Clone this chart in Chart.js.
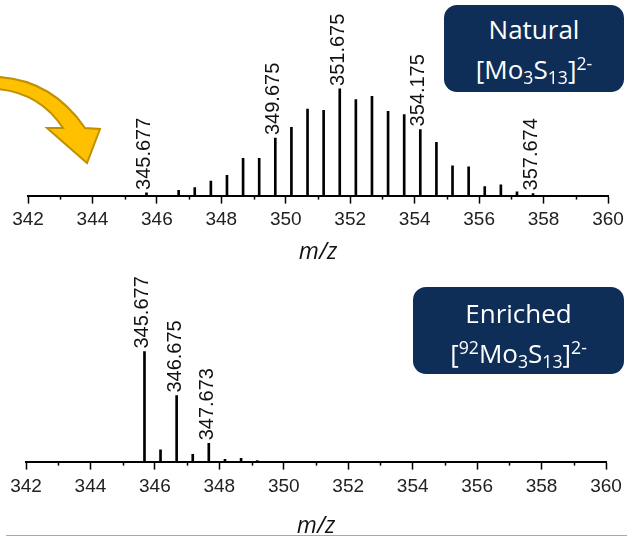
<!DOCTYPE html>
<html>
<head>
<meta charset="utf-8">
<script src="https://cdn.jsdelivr.net/npm/chart.js@4"></script>
<style>
    body { margin: 0; background: #fff; }
    #wrap { position: relative; width: 635px; height: 540px; overflow: hidden; }
    .pane { position: absolute; left: 0; width: 635px; height: 270px; }
    .tag {
        position: absolute;
        background: #0e2e57;
        border-radius: 13px;
        color: #fff;
        font-family: "Open Sans", sans-serif;
        font-size: 26px;
        line-height: 40px;
        text-align: center;
        box-sizing: border-box;
    }
    .sub { font-size: 0.68em; position: relative; top: 0.28em; line-height: 0; }
    .sup { font-size: 0.68em; position: relative; top: -0.5em; line-height: 0; }
    #rule { position: absolute; left: 6px; width: 621px; top: 535px; height: 0; border-top: 1.5px solid #aaa; }
</style>
</head>
<body>
<div id="wrap">
    <div class="pane" style="top:0"><canvas id="naturalChart" width="635" height="270"></canvas></div>
    <div class="pane" style="top:270px"><canvas id="enrichedChart" width="635" height="270"></canvas></div>

    <svg style="position:absolute;left:0;top:0" width="130" height="180">
        <path d="M -2,77 Q 52,80 85,128 L 100,129 L 87,163 L 47,128 L 63,128 Q 40,93 -2,89 Z"
              fill="#ffc000" stroke="#bf9000" stroke-width="2" stroke-linejoin="miter"/>
    </svg>

    <div class="tag" style="left:444px;top:5px;width:180px;height:87px;padding-top:4px">
        Natural<br>[Mo<span class="sub">3</span>S<span class="sub">13</span>]<span class="sup">2-</span>
    </div>
    <div class="tag" style="left:413px;top:287px;width:211px;height:87px;padding-top:6px">
        Enriched<br>[<span class="sup">92</span>Mo<span class="sub">3</span>S<span class="sub">13</span>]<span class="sup">2-</span>
    </div>
    <div id="rule"></div>
</div>

<script>
// Natural isotope pattern (relative intensity, tallest = 100)
const natMz = [345.677, 346.675, 347.175, 347.675, 348.175, 348.675, 349.175, 349.675, 350.175, 350.675, 351.175, 351.675,
    352.175, 352.675, 353.175, 353.675, 354.175, 354.675, 355.175, 355.675, 356.175, 356.675, 357.175, 357.674];
const natInt = [2.5, 5, 7.5, 13.5, 19, 35, 35, 54, 64, 81, 80, 100,
    90, 93, 79, 76, 62, 50, 28, 27, 8.5, 10, 3.5, 2];
const natLabels = ['345.677', '349.675', '351.675', '354.175', '357.674'];

// 92Mo enriched pattern
const enrMz = [345.677, 346.175, 346.675, 347.175, 347.673, 348.175, 348.675, 349.175];
const enrInt = [100, 10.6, 60, 6.6, 16.6, 2, 3, 1];
const enrLabels = ['345.677', '346.675', '347.673'];

// x axis
const mzMin = 342;
const mzMax = 360;
const mzStep = 2;

// Draws rotated m/z labels above the labelled peaks + short minor ticks
const peakLabelPlugin = {
    id: 'peakLabels',
    afterDraw(chart, args, opts) {
        let ctx = chart.ctx;
        let xs = chart.scales.x;
        let ys = chart.scales.y;
        let area = chart.chartArea;

        // minor ticks
        ctx.save();
        ctx.strokeStyle = '#000';
        ctx.lineWidth = 1.5;
        for (let v = mzMin + 1; v < mzMax; v += mzStep) {
            let px = Math.round(xs.getPixelForValue(v)) + 0.5;
            ctx.beginPath();
            ctx.moveTo(px, area.bottom);
            ctx.lineTo(px, area.bottom + 4);
            ctx.stroke();
        }
        ctx.restore();

        // peak labels
        ctx.save();
        ctx.font = '20px "Liberation Sans", Arial, sans-serif';
        ctx.fillStyle = '#111';
        ctx.textAlign = 'left';
        ctx.textBaseline = 'middle';
        opts.labels.forEach(lbl => {
            let i = opts.mz.findIndex(m => Math.abs(m - parseFloat(lbl)) < 0.01);
            if (i < 0) return;
            let px = xs.getPixelForValue(opts.mz[i]) - 1.5;
            let py = ys.getPixelForValue(opts.int[i]) - 3;
            ctx.save();
            ctx.translate(px, py);
            ctx.rotate(-Math.PI / 2);
            ctx.fillText(lbl, 0, 0);
            ctx.restore();
        });
        ctx.restore();
    }
};

function makeSpectrum(canvasId, mz, intensity, labels, yMax, pad, tickPad, titlePadTop) {
    let ctx = document.getElementById(canvasId).getContext('2d');
    return new Chart(ctx, {
        type: 'bar',
        data: {
            datasets: [{
                data: mz.map((m, i) => ({ x: m, y: intensity[i] })),
                backgroundColor: '#000',
                borderWidth: 0,
                barThickness: 2
            }]
        },
        options: {
            responsive: false,
            animation: false,
            layout: { padding: pad },
            plugins: {
                legend: { display: false },
                tooltip: { enabled: false },
                peakLabels: { mz: mz, int: intensity, labels: labels }
            },
            scales: {
                x: {
                    type: 'linear',
                    min: mzMin,
                    max: mzMax,
                    offset: false,
                    grid: {
                        drawOnChartArea: false,
                        tickLength: 8,
                        tickColor: '#000',
                        tickWidth: 1.5,
                        offset: false
                    },
                    border: { display: true, color: '#000', width: 2 },
                    ticks: {
                        stepSize: mzStep,
                        padding: tickPad,
                        color: '#222',
                        maxRotation: 0,
                        font: { family: '"Liberation Sans", Arial, sans-serif', size: 19 }
                    },
                    title: {
                        display: true,
                        text: 'm/z',
                        color: '#111',
                        padding: { top: titlePadTop, bottom: 0 },
                        font: { family: '"Open Sans", sans-serif', size: 23, style: 'italic' }
                    }
                },
                y: {
                    display: false,
                    min: 0,
                    max: yMax
                }
            }
        },
        plugins: [peakLabelPlugin]
    });
}

document.addEventListener('DOMContentLoaded', () => {
    makeSpectrum('naturalChart', natMz, natInt, natLabels, 174, { left: 28, right: 27, top: 10, bottom: 4 }, 5, 2);
    makeSpectrum('enrichedChart', enrMz, enrInt, enrLabels, 165, { left: 26, right: 29, top: 10, bottom: 0 }, 6, 8);
});
</script>
</body>
</html>
